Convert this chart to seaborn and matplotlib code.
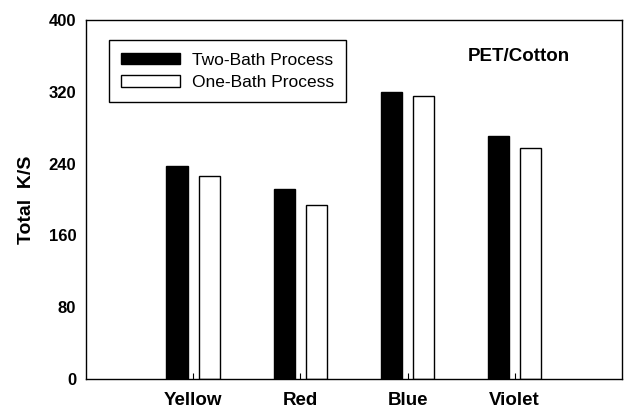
import pandas as pd
import matplotlib
matplotlib.use('Agg')
import matplotlib.pyplot as plt
import seaborn as sns

colors = ['Yellow', 'Red', 'Blue', 'Violet']
two_bath = [237, 212, 320, 271]
one_bath = [226, 194, 315, 258]
y_ticks = [0, 80, 160, 240, 320, 400]

df = pd.DataFrame({
    'color': colors * 2,
    'ks': two_bath + one_bath,
    'process': ['Two-Bath Process'] * 4 + ['One-Bath Process'] * 4,
})

sns.set_style('ticks', {'text.color': 'black', 'axes.labelcolor': 'black',
                        'xtick.color': 'black', 'ytick.color': 'black'})
plt.rcParams['font.family'] = ['Liberation Sans', 'DejaVu Sans']

fig = plt.figure(figsize=(6.25, 4.12), dpi=100)
ax = fig.add_axes([0.1376, 0.080, 0.8574, 0.871])

sns.barplot(data=df, x='color', y='ks', hue='process', order=colors,
            palette=['black', 'white'], width=0.6, gap=1/3,
            edgecolor='black', linewidth=1, ax=ax)

ax.set_xlim(-1, 4)
ax.set_ylim(0, 400)
ax.set_yticks(y_ticks)
ax.set_yticklabels([str(t) for t in y_ticks], fontsize=12, fontweight='bold')
ax.set_xticks(range(len(colors)))
ax.set_xticklabels(colors, fontsize=13.5, fontweight='bold')
ax.tick_params(axis='x', direction='in', length=4, pad=9)
ax.tick_params(axis='y', direction='out', length=0, pad=7)
ax.set_xlabel('')
ax.set_ylabel('Total  K/S', fontsize=14, fontweight='bold', labelpad=10)

for s in ax.spines.values():
    s.set_visible(True)
    s.set_color('black')
    s.set_linewidth(1)

ax.legend(loc='upper left', bbox_to_anchor=(0.026, 0.968), fontsize=12.5,
          frameon=True, fancybox=False, edgecolor='black', framealpha=1,
          handlelength=3.4, handleheight=0.65, borderpad=0.7,
          labelspacing=0.45, handletextpad=0.7)
ax.get_legend().get_frame().set_linewidth(1)

ax.text(0.807, 0.9, 'PET/Cotton', transform=ax.transAxes, ha='center',
        va='center', fontsize=13.5, fontweight='bold')

fig.savefig('out.png', dpi=100)
